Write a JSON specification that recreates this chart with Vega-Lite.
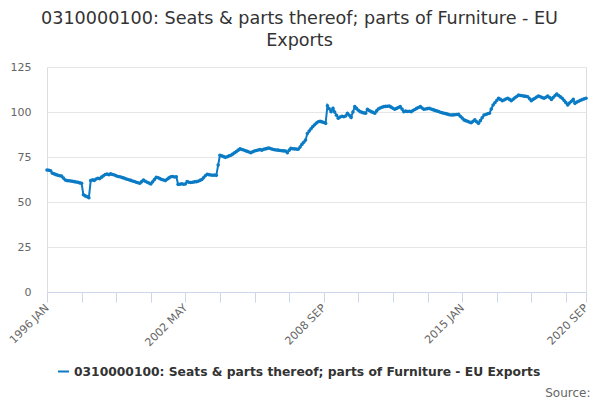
{
  "$schema": "https://vega.github.io/schema/vega-lite/v6.json",
  "width": 539,
  "height": 225,
  "autosize": "none",
  "padding": {"left": 47, "top": 67, "right": 14, "bottom": 108},
  "background": "white",
  "title": {
    "text": ["0310000100: Seats & parts thereof; parts of Furniture - EU", "Exports"],
    "font": "DejaVu Sans",
    "fontSize": 17.6,
    "fontWeight": "normal",
    "color": "#333333",
    "anchor": "middle",
    "dx": -17,
    "offset": 11,
    "lineHeight": 22
  },
  "data": {
    "values": [
      {"date": "1996-01", "value": 67.8}, {"date": "1996-02", "value": 67.6}, {"date": "1996-03", "value": 67.4},
      {"date": "1996-04", "value": 66.0}, {"date": "1996-05", "value": 65.6}, {"date": "1996-06", "value": 65.2},
      {"date": "1996-07", "value": 64.9}, {"date": "1996-08", "value": 64.6}, {"date": "1996-09", "value": 64.4},
      {"date": "1996-10", "value": 63.3}, {"date": "1996-11", "value": 62.2}, {"date": "1996-12", "value": 61.9},
      {"date": "1997-01", "value": 61.8}, {"date": "1997-02", "value": 61.7}, {"date": "1997-03", "value": 61.5},
      {"date": "1997-04", "value": 61.3}, {"date": "1997-05", "value": 61.1}, {"date": "1997-06", "value": 61.0},
      {"date": "1997-07", "value": 60.6}, {"date": "1997-08", "value": 60.4}, {"date": "1997-09", "value": 54.0},
      {"date": "1997-10", "value": 53.4}, {"date": "1997-11", "value": 52.9}, {"date": "1997-12", "value": 52.4},
      {"date": "1998-01", "value": 61.9}, {"date": "1998-02", "value": 62.3}, {"date": "1998-03", "value": 62.0},
      {"date": "1998-04", "value": 62.8}, {"date": "1998-05", "value": 63.2}, {"date": "1998-06", "value": 63.0},
      {"date": "1998-07", "value": 63.8}, {"date": "1998-08", "value": 64.6}, {"date": "1998-09", "value": 65.3},
      {"date": "1998-10", "value": 65.5}, {"date": "1998-11", "value": 65.2}, {"date": "1998-12", "value": 65.6},
      {"date": "1999-01", "value": 65.3}, {"date": "1999-02", "value": 65.0}, {"date": "1999-03", "value": 64.6},
      {"date": "1999-04", "value": 64.2}, {"date": "1999-05", "value": 64.0}, {"date": "1999-06", "value": 63.7},
      {"date": "1999-07", "value": 63.4}, {"date": "1999-08", "value": 63.0}, {"date": "1999-09", "value": 62.6},
      {"date": "1999-10", "value": 62.4}, {"date": "1999-11", "value": 62.0}, {"date": "1999-12", "value": 61.7},
      {"date": "2000-01", "value": 61.4}, {"date": "2000-02", "value": 61.0}, {"date": "2000-03", "value": 60.7},
      {"date": "2000-04", "value": 60.4}, {"date": "2000-05", "value": 61.3}, {"date": "2000-06", "value": 62.2},
      {"date": "2000-07", "value": 61.5}, {"date": "2000-08", "value": 61.0}, {"date": "2000-09", "value": 60.5},
      {"date": "2000-10", "value": 60.0}, {"date": "2000-11", "value": 61.2}, {"date": "2000-12", "value": 62.5},
      {"date": "2001-01", "value": 63.7}, {"date": "2001-02", "value": 63.5}, {"date": "2001-03", "value": 63.0},
      {"date": "2001-04", "value": 62.5}, {"date": "2001-05", "value": 62.2}, {"date": "2001-06", "value": 61.9},
      {"date": "2001-07", "value": 62.6}, {"date": "2001-08", "value": 63.4}, {"date": "2001-09", "value": 64.0},
      {"date": "2001-10", "value": 64.2}, {"date": "2001-11", "value": 63.9}, {"date": "2001-12", "value": 64.0},
      {"date": "2002-01", "value": 59.8}, {"date": "2002-02", "value": 59.9}, {"date": "2002-03", "value": 60.1},
      {"date": "2002-04", "value": 59.9}, {"date": "2002-05", "value": 60.0}, {"date": "2002-06", "value": 61.3},
      {"date": "2002-07", "value": 61.0}, {"date": "2002-08", "value": 60.8}, {"date": "2002-09", "value": 61.0},
      {"date": "2002-10", "value": 61.2}, {"date": "2002-11", "value": 61.3}, {"date": "2002-12", "value": 61.5},
      {"date": "2003-01", "value": 62.0}, {"date": "2003-02", "value": 62.5}, {"date": "2003-03", "value": 63.5},
      {"date": "2003-04", "value": 64.6}, {"date": "2003-05", "value": 65.4}, {"date": "2003-06", "value": 65.2},
      {"date": "2003-07", "value": 65.0}, {"date": "2003-08", "value": 64.9}, {"date": "2003-09", "value": 65.0},
      {"date": "2003-10", "value": 64.8}, {"date": "2003-11", "value": 70.5}, {"date": "2003-12", "value": 76.0},
      {"date": "2004-01", "value": 75.6}, {"date": "2004-02", "value": 75.2}, {"date": "2004-03", "value": 74.8},
      {"date": "2004-04", "value": 75.1}, {"date": "2004-05", "value": 75.6}, {"date": "2004-06", "value": 76.0},
      {"date": "2004-07", "value": 76.6}, {"date": "2004-08", "value": 77.3}, {"date": "2004-09", "value": 78.0},
      {"date": "2004-10", "value": 78.8}, {"date": "2004-11", "value": 79.5}, {"date": "2004-12", "value": 79.2},
      {"date": "2005-01", "value": 78.9}, {"date": "2005-02", "value": 78.5}, {"date": "2005-03", "value": 78.1},
      {"date": "2005-04", "value": 77.8}, {"date": "2005-05", "value": 77.4}, {"date": "2005-06", "value": 77.9},
      {"date": "2005-07", "value": 78.3}, {"date": "2005-08", "value": 78.6}, {"date": "2005-09", "value": 78.9},
      {"date": "2005-10", "value": 79.1}, {"date": "2005-11", "value": 78.8}, {"date": "2005-12", "value": 79.3},
      {"date": "2006-01", "value": 79.5}, {"date": "2006-02", "value": 79.8}, {"date": "2006-03", "value": 80.0},
      {"date": "2006-04", "value": 79.6}, {"date": "2006-05", "value": 79.3}, {"date": "2006-06", "value": 79.0},
      {"date": "2006-07", "value": 78.9}, {"date": "2006-08", "value": 78.8}, {"date": "2006-09", "value": 78.6},
      {"date": "2006-10", "value": 78.5}, {"date": "2006-11", "value": 78.4}, {"date": "2006-12", "value": 78.3},
      {"date": "2007-01", "value": 77.4}, {"date": "2007-02", "value": 78.8}, {"date": "2007-03", "value": 79.8},
      {"date": "2007-04", "value": 79.6}, {"date": "2007-05", "value": 79.5}, {"date": "2007-06", "value": 79.4},
      {"date": "2007-07", "value": 79.3}, {"date": "2007-08", "value": 80.5}, {"date": "2007-09", "value": 82.0},
      {"date": "2007-10", "value": 83.2}, {"date": "2007-11", "value": 84.4}, {"date": "2007-12", "value": 88.0},
      {"date": "2008-01", "value": 89.4}, {"date": "2008-02", "value": 90.7}, {"date": "2008-03", "value": 91.9},
      {"date": "2008-04", "value": 92.9}, {"date": "2008-05", "value": 93.9}, {"date": "2008-06", "value": 94.6},
      {"date": "2008-07", "value": 94.8}, {"date": "2008-08", "value": 94.5}, {"date": "2008-09", "value": 94.2},
      {"date": "2008-10", "value": 93.7}, {"date": "2008-11", "value": 103.5}, {"date": "2008-12", "value": 101.8},
      {"date": "2009-01", "value": 100.2}, {"date": "2009-02", "value": 102.0}, {"date": "2009-03", "value": 100.0},
      {"date": "2009-04", "value": 98.2}, {"date": "2009-05", "value": 96.5}, {"date": "2009-06", "value": 97.2},
      {"date": "2009-07", "value": 97.6}, {"date": "2009-08", "value": 97.4}, {"date": "2009-09", "value": 97.8},
      {"date": "2009-10", "value": 99.3}, {"date": "2009-11", "value": 98.2}, {"date": "2009-12", "value": 97.0},
      {"date": "2010-01", "value": 100.0}, {"date": "2010-02", "value": 103.0}, {"date": "2010-03", "value": 102.0},
      {"date": "2010-04", "value": 101.0}, {"date": "2010-05", "value": 100.2}, {"date": "2010-06", "value": 99.8},
      {"date": "2010-07", "value": 99.5}, {"date": "2010-08", "value": 99.3}, {"date": "2010-09", "value": 101.5},
      {"date": "2010-10", "value": 100.8}, {"date": "2010-11", "value": 100.2}, {"date": "2010-12", "value": 99.8},
      {"date": "2011-01", "value": 99.3}, {"date": "2011-02", "value": 100.6}, {"date": "2011-03", "value": 101.7},
      {"date": "2011-04", "value": 102.2}, {"date": "2011-05", "value": 102.6}, {"date": "2011-06", "value": 103.0},
      {"date": "2011-07", "value": 103.1}, {"date": "2011-08", "value": 103.2}, {"date": "2011-09", "value": 103.3},
      {"date": "2011-10", "value": 102.7}, {"date": "2011-11", "value": 102.1}, {"date": "2011-12", "value": 101.5},
      {"date": "2012-01", "value": 102.0}, {"date": "2012-02", "value": 102.5}, {"date": "2012-03", "value": 103.0},
      {"date": "2012-04", "value": 101.6}, {"date": "2012-05", "value": 100.2}, {"date": "2012-06", "value": 100.5},
      {"date": "2012-07", "value": 100.3}, {"date": "2012-08", "value": 100.4}, {"date": "2012-09", "value": 100.2},
      {"date": "2012-10", "value": 100.8}, {"date": "2012-11", "value": 101.4}, {"date": "2012-12", "value": 102.0},
      {"date": "2013-01", "value": 102.5}, {"date": "2013-02", "value": 103.0}, {"date": "2013-03", "value": 102.2},
      {"date": "2013-04", "value": 101.5}, {"date": "2013-05", "value": 101.7}, {"date": "2013-06", "value": 101.9},
      {"date": "2013-07", "value": 102.0}, {"date": "2013-08", "value": 101.6}, {"date": "2013-09", "value": 101.3},
      {"date": "2013-10", "value": 100.9}, {"date": "2013-11", "value": 100.6}, {"date": "2013-12", "value": 100.3},
      {"date": "2014-01", "value": 99.9}, {"date": "2014-02", "value": 99.6}, {"date": "2014-03", "value": 99.3},
      {"date": "2014-04", "value": 99.1}, {"date": "2014-05", "value": 98.8}, {"date": "2014-06", "value": 98.5},
      {"date": "2014-07", "value": 98.3}, {"date": "2014-08", "value": 98.4}, {"date": "2014-09", "value": 98.5},
      {"date": "2014-10", "value": 98.6}, {"date": "2014-11", "value": 98.7}, {"date": "2014-12", "value": 97.6},
      {"date": "2015-01", "value": 96.6}, {"date": "2015-02", "value": 95.6}, {"date": "2015-03", "value": 95.2},
      {"date": "2015-04", "value": 94.8}, {"date": "2015-05", "value": 94.4}, {"date": "2015-06", "value": 94.0},
      {"date": "2015-07", "value": 94.8}, {"date": "2015-08", "value": 95.6}, {"date": "2015-09", "value": 94.6},
      {"date": "2015-10", "value": 93.7}, {"date": "2015-11", "value": 95.2}, {"date": "2015-12", "value": 96.8},
      {"date": "2016-01", "value": 98.3}, {"date": "2016-02", "value": 98.6}, {"date": "2016-03", "value": 99.0},
      {"date": "2016-04", "value": 99.3}, {"date": "2016-05", "value": 101.6}, {"date": "2016-06", "value": 103.9},
      {"date": "2016-07", "value": 105.1}, {"date": "2016-08", "value": 106.4}, {"date": "2016-09", "value": 107.6},
      {"date": "2016-10", "value": 107.0}, {"date": "2016-11", "value": 106.3}, {"date": "2016-12", "value": 106.7},
      {"date": "2017-01", "value": 107.2}, {"date": "2017-02", "value": 107.6}, {"date": "2017-03", "value": 107.0},
      {"date": "2017-04", "value": 106.3}, {"date": "2017-05", "value": 107.1}, {"date": "2017-06", "value": 107.9},
      {"date": "2017-07", "value": 108.6}, {"date": "2017-08", "value": 109.4}, {"date": "2017-09", "value": 109.2},
      {"date": "2017-10", "value": 109.0}, {"date": "2017-11", "value": 108.8}, {"date": "2017-12", "value": 108.7},
      {"date": "2018-01", "value": 108.5}, {"date": "2018-02", "value": 107.4}, {"date": "2018-03", "value": 106.3},
      {"date": "2018-04", "value": 107.0}, {"date": "2018-05", "value": 107.6}, {"date": "2018-06", "value": 108.3},
      {"date": "2018-07", "value": 108.9}, {"date": "2018-08", "value": 108.5}, {"date": "2018-09", "value": 108.0},
      {"date": "2018-10", "value": 107.6}, {"date": "2018-11", "value": 108.2}, {"date": "2018-12", "value": 108.9},
      {"date": "2019-01", "value": 108.0}, {"date": "2019-02", "value": 107.0}, {"date": "2019-03", "value": 108.0},
      {"date": "2019-04", "value": 109.0}, {"date": "2019-05", "value": 110.0}, {"date": "2019-06", "value": 109.2},
      {"date": "2019-07", "value": 108.4}, {"date": "2019-08", "value": 107.6}, {"date": "2019-09", "value": 106.4},
      {"date": "2019-10", "value": 105.2}, {"date": "2019-11", "value": 103.9}, {"date": "2019-12", "value": 105.0},
      {"date": "2020-01", "value": 106.0}, {"date": "2020-02", "value": 107.0}, {"date": "2020-03", "value": 104.8},
      {"date": "2020-04", "value": 105.5}, {"date": "2020-05", "value": 106.0}, {"date": "2020-06", "value": 106.5},
      {"date": "2020-07", "value": 106.9}, {"date": "2020-08", "value": 107.3}, {"date": "2020-09", "value": 107.6}
    ]
  },
  "mark": {
    "type": "line",
    "strokeWidth": 2,
    "point": {"size": 13, "filled": true, "opacity": 1}
  },
  "encoding": {
    "x": {
      "field": "date",
      "type": "temporal",
      "scale": {"type": "utc", "nice": false},
      "axis": {
        "values": [
          {"year": 1996, "month": 1, "utc": true}, {"year": 1997, "month": 8, "utc": true},
          {"year": 1999, "month": 3, "utc": true}, {"year": 2000, "month": 10, "utc": true},
          {"year": 2002, "month": 5, "utc": true}, {"year": 2003, "month": 12, "utc": true},
          {"year": 2005, "month": 7, "utc": true}, {"year": 2007, "month": 2, "utc": true},
          {"year": 2008, "month": 9, "utc": true}, {"year": 2010, "month": 4, "utc": true},
          {"year": 2011, "month": 11, "utc": true}, {"year": 2013, "month": 6, "utc": true},
          {"year": 2015, "month": 1, "utc": true}, {"year": 2016, "month": 8, "utc": true},
          {"year": 2018, "month": 3, "utc": true}, {"year": 2019, "month": 10, "utc": true},
          {"year": 2020, "month": 9, "utc": true}
        ],
        "labelExpr": "indexof(['1996-01','2002-05','2008-09','2015-01','2020-09'], utcFormat(datum.value, '%Y-%m')) >= 0 ? upper(utcFormat(datum.value, '%Y %b')) : ''",
        "labelAngle": -45,
        "labelAlign": "right",
        "labelBaseline": "middle",
        "labelPadding": 4,
        "labelFont": "DejaVu Sans",
        "labelFontSize": 11,
        "labelColor": "#666666",
        "labelOverlap": false,
        "labelFlush": false,
        "domainColor": "#ccd6eb",
        "tickColor": "#ccd6eb",
        "tickSize": 10,
        "grid": false,
        "title": "Source:",
        "titleFont": "DejaVu Sans",
        "titleFontSize": 12,
        "titleFontWeight": "normal",
        "titleColor": "#666666",
        "titleAnchor": "end",
        "titleAlign": "right",
        "titleX": 543,
        "titleY": 104,
        "titleBaseline": "alphabetic"
      }
    },
    "y": {
      "field": "value",
      "type": "quantitative",
      "scale": {"domain": [0, 125]},
      "axis": {
        "values": [0, 25, 50, 75, 100, 125],
        "title": null,
        "domain": false,
        "ticks": false,
        "labelFont": "DejaVu Sans",
        "labelFontSize": 11,
        "labelColor": "#666666",
        "labelPadding": 16,
        "gridColor": "#e6e6e6"
      }
    },
    "color": {
      "datum": "0310000100: Seats & parts thereof; parts of Furniture - EU Exports",
      "type": "nominal",
      "scale": {"range": ["#0a7bc4"]},
      "legend": {
        "title": null,
        "orient": "none",
        "legendX": 10,
        "legendY": 298,
        "symbolType": "stroke",
        "symbolStrokeWidth": 2,
        "symbolSize": 120,
        "labelFont": "DejaVu Sans",
        "labelFontSize": 12.3,
        "labelFontWeight": "bold",
        "labelColor": "#333333",
        "labelLimit": 600
      }
    }
  }
}
